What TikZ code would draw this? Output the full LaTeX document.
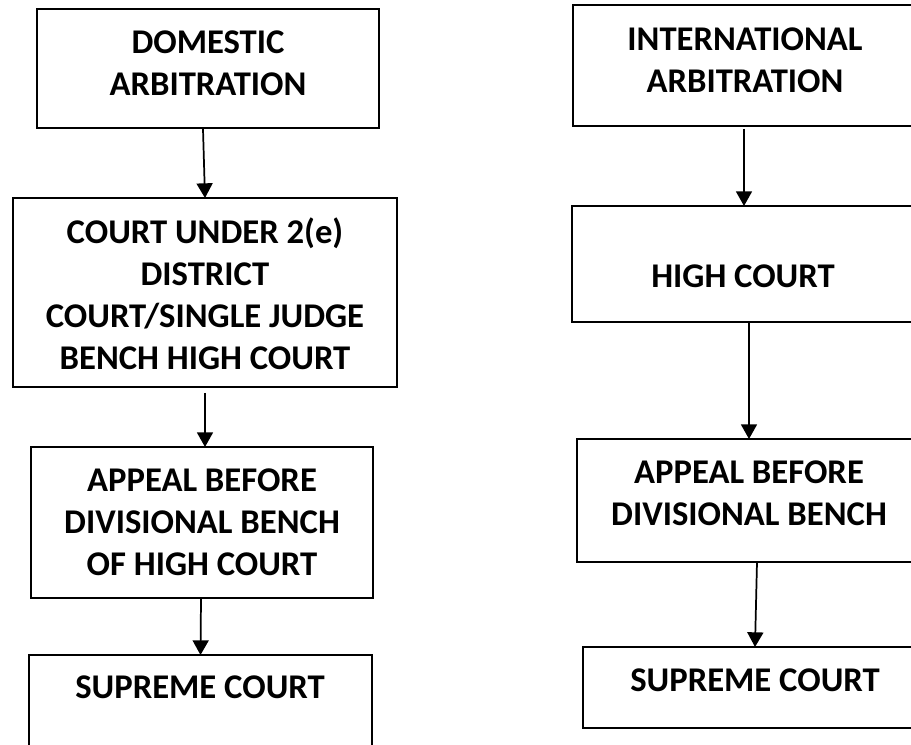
\documentclass[tikz,border=0pt]{standalone}
\usepackage{fontspec}
\setmainfont{Carlito}
\usetikzlibrary{fit,calc,arrows.meta}
\tikzset{
  box/.style={draw=black, line width=1.3pt, inner sep=0pt, outer sep=0pt, rectangle},
  lbl/.style={font=\bfseries\fontsize{26}{31.5}\selectfont, align=center, inner sep=0pt},
  arr/.style={draw=black, line width=1.3pt, -{Triangle[length=11pt,width=12pt]}}
}
\begin{document}
\begin{tikzpicture}[x=0.75pt,y=-0.75pt]
\useasboundingbox (0,0) rectangle (911,745);
\fill[white] (0,0) rectangle (911,745);
\clip (0,0) rectangle (911,745);
% left column
\node[box, fit={(37,9) (379,128)}] (A) {};
\node[box, fit={(13,198) (397,387)}] (B) {};
\node[box, fit={(31,447) (373,598)}] (C) {};
\node[box, fit={(29,655) (372,770)}] (D) {};
% right column
\node[box, fit={(573,5) (917,126)}] (E) {};
\node[box, fit={(572,206) (914,322)}] (F) {};
\node[box, fit={(577,439) (921,562)}] (G) {};
\node[box, fit={(583,647) (927,728)}] (H) {};
% labels
\node[lbl] (At) at (208,63) {DOMESTIC\\ARBITRATION};
\node[lbl] (Bt) at (205,294) {COURT UNDER 2(e)\\DISTRICT\\COURT/SINGLE JUDGE\\BENCH HIGH COURT};
\node[lbl] (Ct) at (202,522) {APPEAL BEFORE\\DIVISIONAL BENCH\\OF HIGH COURT};
\node[lbl] (Dt) at (200,687) {SUPREME COURT};
\node[lbl] (Et) at (745,60) {INTERNATIONAL\\ARBITRATION};
\node[lbl] (Ft) at (743,276) {HIGH COURT};
\node[lbl] (Gt) at (749,493.5) {APPEAL BEFORE\\DIVISIONAL BENCH};
\node[lbl] (Ht) at (755,680) {SUPREME COURT};
% arrows
\draw[arr] ($(A.south)+(-5,1)$) -- (B.north);
\draw[arr] ($(B.south)+(0,6)$) -- ($(C.north)+(3,0)$);
\draw[arr] ($(C.south)+(-1,1)$) -- (D.north);
\draw[arr] ($(E.south)+(-1,3)$) -- ($(F.north)+(1,0)$);
\draw[arr] ($(F.south)+(6,1)$) -- (G.north);
\draw[arr] ($(G.south)+(8,0)$) -- (H.north);
\end{tikzpicture}
\end{document}
